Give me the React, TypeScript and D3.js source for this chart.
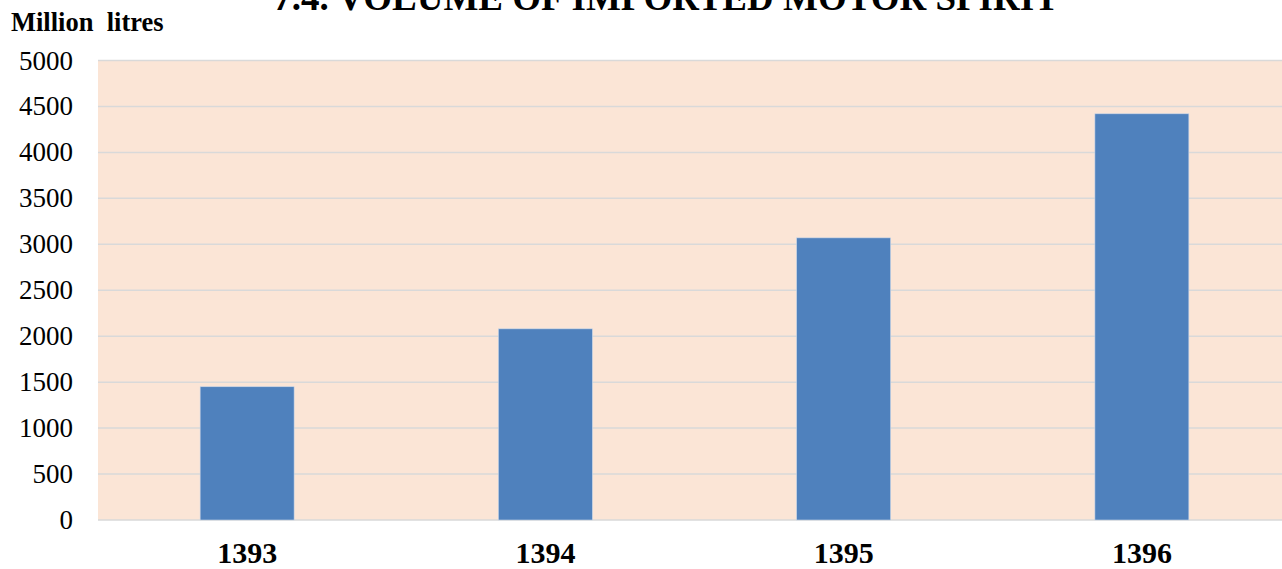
import React, { useRef, useEffect } from "react";
import * as d3 from "d3";

// Imported motor spirit, million litres, by year
const years = ["1393", "1394", "1395", "1396"];
const volumes = [1450, 2080, 3070, 4420];
const yTicks = [0, 500, 1000, 1500, 2000, 2500, 3000, 3500, 4000, 4500, 5000];

const W = 1282;
const H = 569;

export default function App() {
  const svgRef = useRef<SVGSVGElement>(null);

  useEffect(() => {
    if (!svgRef.current) return;
    const svg = d3.select(svgRef.current);
    svg.selectAll("*").remove();

    const left = 98;
    const right = 1282;
    const top = 60.5;
    const bottom = 520;

    // category band runs a little past the right edge, as in the source
    const x = d3.scaleBand<string>().domain(years).range([left, 1291]).paddingInner(0.685).paddingOuter(0.3425);
    const y = d3.scaleLinear().domain([0, 5000]).range([bottom, top]);

    // plot background
    svg.append("rect")
      .attr("x", left)
      .attr("y", top)
      .attr("width", right - left)
      .attr("height", bottom - top)
      .attr("fill", "#fbe5d6");

    // gridlines
    svg.append("g")
      .selectAll("line")
      .data(yTicks)
      .join("line")
      .attr("x1", left)
      .attr("x2", right)
      .attr("y1", d => y(d))
      .attr("y2", d => y(d))
      .attr("stroke", "#d9d9d9")
      .attr("stroke-width", 1.5);

    // y tick labels
    svg.append("g")
      .selectAll("text")
      .data(yTicks)
      .join("text")
      .attr("x", 73)
      .attr("y", d => y(d) + 9)
      .attr("text-anchor", "end")
      .attr("font-family", "'Liberation Serif', 'Times New Roman', serif")
      .attr("font-size", 27)
      .attr("fill", "#000")
      .text(d => String(d));

    // bars
    svg.append("g")
      .selectAll("rect")
      .data(volumes)
      .join("rect")
      .attr("x", (_, i) => x(years[i])!)
      .attr("y", d => y(d))
      .attr("width", x.bandwidth())
      .attr("height", d => bottom - y(d))
      .attr("fill", "#4f81bd")
      .attr("stroke", "#c9d6e8")
      .attr("stroke-width", 0.6);

    // x labels
    svg.append("g")
      .selectAll("text")
      .data(years)
      .join("text")
      .attr("x", d => x(d)! + x.bandwidth() / 2)
      .attr("y", 563)
      .attr("text-anchor", "middle")
      .attr("font-family", "'Liberation Serif', 'Times New Roman', serif")
      .attr("font-size", 30)
      .attr("font-weight", "bold")
      .attr("fill", "#000")
      .text(d => d);

    // unit label
    svg.append("text")
      .attr("x", 11)
      .attr("y", 31)
      .attr("font-family", "'Liberation Serif', 'Times New Roman', serif")
      .attr("font-size", 26.5)
      .attr("font-weight", "bold")
      .attr("xml:space", "preserve")
      .style("white-space", "pre")
      .text("Million  litres");

    // title (clipped at top, as in the source)
    svg.append("text")
      .attr("x", 666)
      .attr("y", 10)
      .attr("text-anchor", "middle")
      .attr("font-family", "'Liberation Serif', 'Times New Roman', serif")
      .attr("font-size", 37)
      .attr("font-weight", "bold")
      .text("7.4. VOLUME OF IMPORTED MOTOR SPIRIT");
  }, []);

  return (
    <svg
      ref={svgRef}
      width={W}
      height={H}
      style={{ position: "absolute", left: 0, top: 0, background: "#fff" }}
    />
  );
}
